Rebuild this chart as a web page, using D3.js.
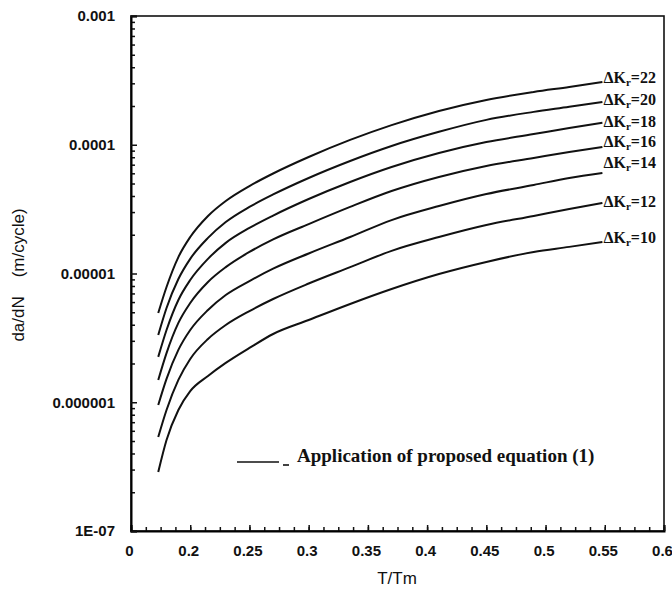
<!DOCTYPE html>
<html>
<head>
<meta charset="utf-8">
<script src="https://cdn.jsdelivr.net/npm/d3@7"></script>
<style>
  body { margin: 0; background: #fff; }
  svg { display: block; }
</style>
</head>
<body>
<svg id="grafico" width="672" height="589"></svg>
<script>
// valores de T/Tm comunes a todas las curvas
const tT = [0.173, 0.18, 0.19, 0.20, 0.215, 0.23, 0.25, 0.27, 0.30, 0.335, 0.37, 0.41, 0.45, 0.49, 0.52, 0.548];

// da/dN (m/cycle) para cada ΔK
const dK22 = [4.93e-6, 7.85e-6, 1.34e-5, 1.92e-5, 2.80e-5, 3.66e-5, 4.78e-5, 5.98e-5, 8.03e-5, 1.09e-4, 1.42e-4, 1.83e-4, 2.23e-4, 2.57e-4, 2.81e-4, 3.07e-4];
const dK20 = [3.33e-6, 5.40e-6, 9.06e-6, 1.30e-5, 1.89e-5, 2.51e-5, 3.29e-5, 4.11e-5, 5.52e-5, 7.48e-5, 9.78e-5, 1.26e-4, 1.56e-4, 1.80e-4, 1.97e-4, 2.15e-4];
const dK18 = [2.25e-6, 3.64e-6, 6.23e-6, 8.90e-6, 1.30e-5, 1.73e-5, 2.26e-5, 2.82e-5, 3.79e-5, 5.14e-5, 6.72e-5, 8.63e-5, 1.05e-4, 1.21e-4, 1.35e-4, 1.48e-4];
const dK16 = [1.49e-6, 2.41e-6, 4.13e-6, 5.90e-6, 8.59e-6, 1.12e-5, 1.47e-5, 1.84e-5, 2.42e-5, 3.29e-5, 4.37e-5, 5.62e-5, 6.84e-5, 7.89e-5, 8.78e-5, 9.60e-5];
const dK14 = [9.52e-7, 1.52e-6, 2.55e-6, 3.64e-6, 5.21e-6, 6.81e-6, 8.74e-6, 1.09e-5, 1.43e-5, 1.92e-5, 2.60e-5, 3.34e-5, 4.14e-5, 4.87e-5, 5.52e-5, 6.03e-5];
const dK12 = [5.37e-7, 8.71e-7, 1.49e-6, 2.17e-6, 3.10e-6, 3.98e-6, 5.11e-6, 6.34e-6, 8.36e-6, 1.12e-5, 1.50e-5, 1.92e-5, 2.38e-5, 2.80e-5, 3.17e-5, 3.53e-5];
const dK10 = [2.87e-7, 5.09e-7, 8.71e-7, 1.22e-6, 1.60e-6, 2.02e-6, 2.64e-6, 3.39e-6, 4.35e-6, 5.80e-6, 7.58e-6, 9.91e-6, 1.23e-5, 1.47e-5, 1.61e-5, 1.76e-5];

const series = [dK22, dK20, dK18, dK16, dK14, dK12, dK10];
const deltaK = ["22", "20", "18", "16", "14", "12", "10"];

// marcas de los ejes
const xTicks = [0.15, 0.2, 0.25, 0.3, 0.35, 0.4, 0.45, 0.5, 0.55, 0.6];
const xTickLabels = ["0", "0.2", "0.25", "0.3", "0.35", "0.4", "0.45", "0.5", "0.55", "0.6"];
const yTicks = [1e-3, 1e-4, 1e-5, 1e-6, 1e-7];
const yTickLabels = ["0.001", "0.0001", "0.00001", "0.000001", "1E-07"];

const svg = d3.select("#grafico");
const x = d3.scaleLinear().domain([0.15, 0.6]).range([131, 664]);
const y = d3.scaleLog().domain([1e-7, 1e-3]).range([531, 16]);

// marco
svg.append("rect")
    .attr("x", 131).attr("y", 16)
    .attr("width", 533).attr("height", 515)
    .attr("fill", "none")
    .attr("stroke", "#111")
    .attr("stroke-width", 1.6);

// eje X: marcas menores y mayores hacia dentro
const xMinor = d3.range(0, 37).map(i => 0.15 + i * 0.0125);
svg.append("g")
    .attr("transform", "translate(0,531)")
    .call(d3.axisBottom(x).tickValues(xMinor).tickSize(-4).tickFormat(""))
    .call(g => g.select(".domain").remove());
const gx = svg.append("g")
    .attr("transform", "translate(0,531)")
    .call(d3.axisBottom(x).tickValues(xTicks).tickSize(-6).tickPadding(14)
        .tickFormat((d, i) => xTickLabels[i]));
gx.select(".domain").attr("stroke-width", 2);
gx.selectAll("text")
    .attr("dx", -2)
    .attr("font-family", "Liberation Sans, Arial, sans-serif")
    .attr("font-size", 15)
    .attr("font-weight", "bold")
    .attr("fill", "#111");

// eje Y logarítmico
const yMinor = y.ticks().filter(d => yTicks.indexOf(d) < 0);
svg.append("g")
    .attr("transform", "translate(131,0)")
    .call(d3.axisLeft(y).tickValues(yMinor).tickSize(-4).tickFormat(""))
    .call(g => g.select(".domain").remove());
const gy = svg.append("g")
    .attr("transform", "translate(131,0)")
    .call(d3.axisLeft(y).tickValues(yTicks).tickSize(-6).tickPadding(16)
        .tickFormat((d, i) => yTickLabels[i]));
gy.select(".domain").attr("stroke-width", 2);
gy.selectAll("text")
    .attr("font-family", "Liberation Sans, Arial, sans-serif")
    .attr("font-size", 15)
    .attr("font-weight", "bold")
    .attr("fill", "#111");
svg.selectAll(".tick line").attr("stroke", "#111").attr("stroke-width", 1.5);

// títulos de ejes
svg.append("text")
    .attr("x", 397).attr("y", 584)
    .attr("text-anchor", "middle")
    .attr("font-family", "Liberation Sans, Arial, sans-serif")
    .attr("font-size", 17)
    .attr("fill", "#111")
    .text("T/Tm");
svg.append("text")
    .attr("transform", "translate(24,275) rotate(-90)")
    .attr("text-anchor", "middle")
    .attr("font-family", "Liberation Sans, Arial, sans-serif")
    .attr("font-size", 17)
    .attr("fill", "#111")
    .style("white-space", "pre")
    .text("da/dN    (m/cycle)");

// curvas
const linea = d3.line()
    .x((d, i) => x(tT[i]))
    .y(d => y(d))
    .curve(d3.curveMonotoneX);

svg.append("g").selectAll("path")
    .data(series)
    .join("path")
    .attr("d", linea)
    .attr("fill", "none")
    .attr("stroke", "#111")
    .attr("stroke-width", 2);

// etiquetas ΔK al final de cada curva
const ajuste = [-4, -2, -1, -5, -10, -1, -4];
const etiquetas = svg.append("g")
    .attr("font-family", "Liberation Serif, Times New Roman, serif")
    .attr("font-size", 16)
    .attr("font-weight", "bold")
    .attr("fill", "#111");
series.forEach((s, i) => {
    const t = etiquetas.append("text")
        .attr("x", x(tT[tT.length - 1]) + 1)
        .attr("y", y(s[s.length - 1]) + ajuste[i] + 5);
    t.append("tspan").text("\u0394K");
    t.append("tspan").attr("font-size", 11).attr("dy", 3).text("r");
    t.append("tspan").attr("dy", -3).text("=" + deltaK[i]);
});

// leyenda
svg.append("line")
    .attr("x1", 237).attr("x2", 279)
    .attr("y1", 462).attr("y2", 462)
    .attr("stroke", "#111").attr("stroke-width", 1.6);
svg.append("line")
    .attr("x1", 283).attr("x2", 289)
    .attr("y1", 465).attr("y2", 465)
    .attr("stroke", "#111").attr("stroke-width", 1.6);
svg.append("text")
    .attr("x", 297).attr("y", 462)
    .attr("font-family", "Liberation Serif, Times New Roman, serif")
    .attr("font-size", 19)
    .attr("font-weight", "bold")
    .attr("fill", "#111")
    .text("Application of proposed equation (1)");
</script>
</body>
</html>
